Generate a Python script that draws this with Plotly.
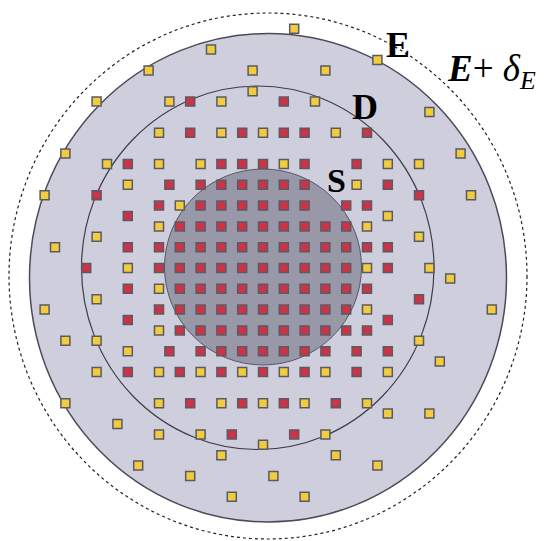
import plotly.graph_objects as go

# ---- data (grid units: one step = spacing of the inner lattice) ----
yellow_x = [-2.5, -5.5, -0.5, -0.5, -8, -4.5, -2, -5, -2, 0, -9.5, -7.5, -5, -3,
            1.5, 5.5, 3, 2.5, 8, 3.5, 9.5, 1, 6, 7.5,
            -6.5, -10.5, -4, -5, -8, -10, -6.5, -5, -8, -10.5, -5, -9.5, -8, -6.5,
            4.5, 10, 6, 5, 7.5, 5, 8, 9, 5, 11, 7.5, 8.5,
            -8, -5, -3, -1, -9.5, -5, -2, 0, -7, -5, -3, 0, -2, -6, -3.5, 0.5, -1.5,
            1, 3, 6, 2, 5, 6, 8, 3, 3.5, 5.5, 2]
yellow_y = [10.5, 9.5, 9.5, 8.5, 8, 8, 8, 6.5, 6.5, 6.5, 5.5, 5, 5, 5,
            11.5, 10, 9.5, 8, 7.5, 6.5, 5.5, 5, 5, 5,
            4, 3.5, 3, 2, 1.5, 1, 0, -1, -1.5, -2, -3, -3.5, -3.5, -4,
            4, 3.5, 2.5, 2, 1.5, 0, 0, -0.5, -2, -2, -3.5, -4.5,
            -5, -5, -5, -5, -6.5, -6.5, -6.5, -6.5, -7.5, -8, -8, -8.5, -9, -9.5, -10, -10, -11,
            -5, -5, -5, -6.5, -6.5, -7, -7, -8, -9, -9.5, -11]

red_x = [-3.5, -3.5, -1, -6.5, -2, -1, 0,
         1, 1, 2, 5, 2, 4.5,
         -4.5, -3, -2, -1, 0, -8, -5, -3, -2, -1, 0, -6.5, -4, -3, -2, -1, 0,
         -6.5, -5, -4, -3, -2, -1, 0, -8.5, -5, -4, -3, -2, -1, 0,
         -6.5, -4, -3, -2, -1, 0, -5, -4, -3, -2, -1, 0, -6.5,
         -4, -3, -2, -1, 0, -4.5, -3, -2, -1, 0,
         1, 2, 6, 7.5, 1, 2, 4, 5, 1, 2, 3, 4, 1, 2, 3, 4, 5, 6,
         1, 2, 3, 4, 6, 1, 2, 3, 4, 5, 7.5, 1, 2, 3, 4, 6,
         1, 2, 3, 4, 5, 1, 2, 3, 4.5, 6,
         -6.5, -4, -2, 0, -3.5, -1, -1.5,
         2, 4.5, 1, 3.5, 1.5]
red_y = [8, 6.5, 6.5, 5, 5, 5, 5,
         8, 6.5, 6.5, 6.5, 5, 5,
         4, 4, 4, 4, 4, 3.5, 3, 3, 3, 3, 3, 2.5, 2, 2, 2, 2, 2,
         1, 1, 1, 1, 1, 1, 1, 0, 0, 0, 0, 0, 0, 0,
         -1, -1, -1, -1, -1, -1, -2, -2, -2, -2, -2, -2, -2.5,
         -3, -3, -3, -3, -3, -4, -4, -4, -4, -4,
         4, 4, 4, 3.5, 3, 3, 3, 3, 2, 2, 2, 2, 1, 1, 1, 1, 1, 1,
         0, 0, 0, 0, 0, -1, -1, -1, -1, -1, -1.5, -2, -2, -2, -2, -2.5,
         -3, -3, -3, -3, -3, -4, -4, -4, -4, -4,
         -5, -5, -5, -5, -6.5, -6.5, -8,
         -5, -5, -6.5, -6.5, -8]

region_labels = ["<b>E</b>", "<b>D</b>", "<b>S</b>",
                 "<b><i>E</i></b>+ <i>δ</i><sub><i>E</i></sub>"]

# ---- layout geometry (page pixels -> grid units) ----
PAGE_W, PAGE_H = 549, 541
OFF = 8                      # default body margin of the html page
W, H = PAGE_W - OFF, PAGE_H - OFF
CX, CY, U = 263.0, 268.0, 20.8


def gx(px):
    return (px - CX) / U


def gy(py):
    return (CY - py) / U


def circle(l, r, t, b, **kw):
    return dict(type="circle", xref="x", yref="y", layer="below",
                x0=gx(l), x1=gx(r), y0=gy(b), y1=gy(t), **kw)


shapes = [
    circle(9, 527, 13, 539, line=dict(color="#222222", width=1.2, dash="dot")),
    circle(29.5, 506.5, 33.5, 522, fillcolor="#CECEDC",
           line=dict(color="#4a4a58", width=1.5)),
    circle(81.5, 434, 86, 449.5, line=dict(color="#3c3c4a", width=1.2)),
    circle(164.5, 361.5, 169, 365, fillcolor="#9898A8",
           line=dict(color="#55556a", width=1)),
]

fig = go.Figure()
marker_line = dict(color="#5a5a66", width=1.5)
fig.add_trace(go.Scatter(x=yellow_x, y=yellow_y, mode="markers",
                         marker=dict(symbol="square", size=9, color="#F2CC3C",
                                     line=marker_line),
                         hoverinfo="skip", showlegend=False))
fig.add_trace(go.Scatter(x=red_x, y=red_y, mode="markers",
                         marker=dict(symbol="square", size=9, color="#CC3344",
                                     line=marker_line),
                         hoverinfo="skip", showlegend=False))

serif = "Liberation Serif, DejaVu Serif, serif"
ann_pos = [(398, 45, "center", 36), (365, 107, "center", 36),
           (336, 180, "center", 34), (445, 71, "left", 37)]
annotations = []
for txt, (px, py, anc, fs) in zip(region_labels, ann_pos):
    annotations.append(dict(x=gx(px), y=gy(py), xref="x", yref="y", text=txt,
                            showarrow=False, xanchor=anc, yanchor="middle",
                            font=dict(family=serif, size=fs, color="black")))

fig.update_layout(
    width=W, height=H,
    margin=dict(l=0, r=0, t=0, b=0),
    paper_bgcolor="white", plot_bgcolor="white",
    shapes=shapes, annotations=annotations,
    xaxis=dict(range=[gx(OFF), gx(PAGE_W)], visible=False, fixedrange=True),
    yaxis=dict(range=[gy(PAGE_H), gy(OFF)], visible=False, fixedrange=True),
)

fig.write_html("out.html")
